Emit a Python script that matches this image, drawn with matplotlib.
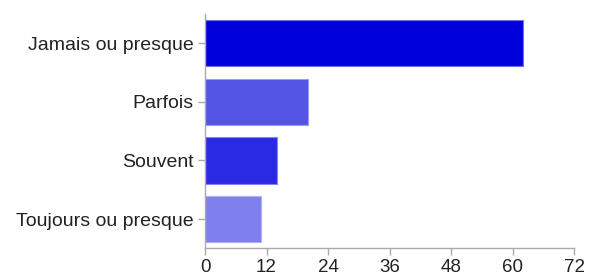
import matplotlib
matplotlib.use("Agg")
import matplotlib.pyplot as plt

# Données
categories = ["Jamais ou presque", "Parfois", "Souvent", "Toujours ou presque"]
valeurs = [62, 20, 14, 11]
couleurs = ["#0000DC", "#5454E5", "#2A2AE5", "#7F7FEE"]
bords = ["#7070F5", "#9A9AF2", "#8585F2", "#B0B0F5"]
ticks_x = [0, 12, 24, 36, 48, 60, 72]

plt.rcParams["font.family"] = ["Liberation Sans", "DejaVu Sans"]

fig = plt.figure(figsize=(5.9, 2.79), dpi=100)
ax = fig.add_axes([0.3475, 0.110, 0.6255, 0.840])

positions = list(range(len(categories)))
ax.barh(positions, valeurs, height=0.79, color=couleurs, edgecolor=bords, linewidth=0.8)

ax.set_ylim(len(categories) - 0.5, -0.5)
ax.set_xlim(0, 72)
ax.set_yticks(positions)
ax.set_yticklabels(categories, fontsize=14, color="#222222")
ax.set_xticks(ticks_x)
ax.set_xticklabels([str(t) for t in ticks_x], fontsize=13.5, color="#222222")

for s in ["top", "right"]:
    ax.spines[s].set_visible(False)
for s in ["left", "bottom"]:
    ax.spines[s].set_color("#AAAAAA")
    ax.spines[s].set_linewidth(1.0)

ax.tick_params(axis="both", color="#AAAAAA", length=5, width=1.0)
ax.tick_params(axis="y", pad=3)
ax.tick_params(axis="x", pad=3)

fig.savefig("out.png", dpi=100)
